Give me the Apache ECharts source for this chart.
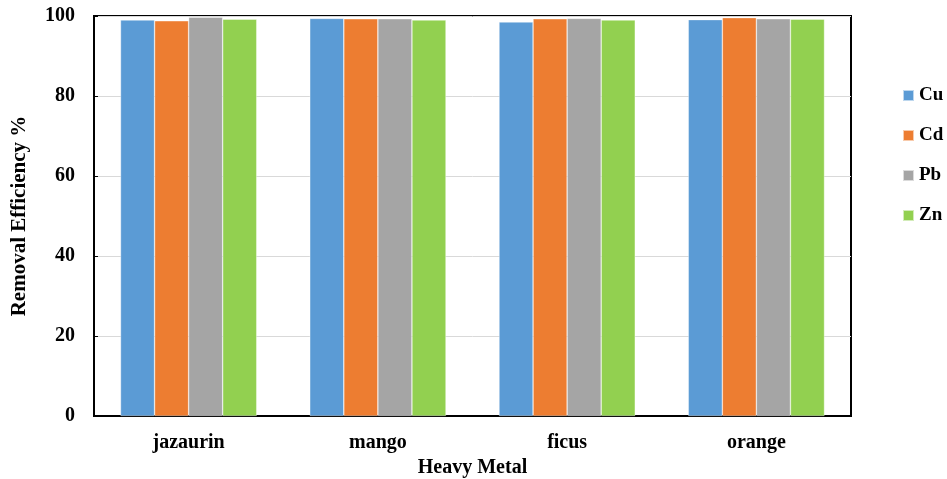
<!DOCTYPE html>
<html><head><meta charset="utf-8">
<script src="https://cdn.jsdelivr.net/npm/echarts@6/dist/echarts.min.js"></script>
<style>html,body{margin:0;padding:0;background:#fff}#c{width:947px;height:479px}</style>
</head><body><div id="c"></div>
<script>
const categories = ['jazaurin', 'mango', 'ficus', 'orange'];
const seriesNames = ['Cu', 'Cd', 'Pb', 'Zn'];
const cu = [99.0, 99.4, 98.5, 99.1];
const cd = [98.8, 99.3, 99.3, 99.6];
const pb = [99.7, 99.3, 99.4, 99.3];
const zn = [99.2, 99.0, 99.0, 99.2];
const yTicks = [0, 20, 40, 60, 80, 100];
const colors = ['#5B9BD5', '#ED7D31', '#A5A5A5', '#92D050'];
const values = [cu, cd, pb, zn];
const font = 'Liberation Serif';
const chart = echarts.init(document.getElementById('c'));
chart.setOption({
  animation: false,
  textStyle: {fontFamily: font},
  grid: {left: 94, right: 96, top: 16, bottom: 63, containLabel: false, outerBoundsMode: 'none',
    show: true, borderColor: '#000', borderWidth: 2, backgroundColor: 'transparent'},
  legend: {
    orient: 'vertical', left: 897, top: 81, itemGap: 21, itemWidth: 11, itemHeight: 11,
    icon: 'rect',
    textStyle: {fontFamily: font, fontWeight: 'bold', fontSize: 19, color: '#000'},
    data: seriesNames
  },
  xAxis: {
    type: 'category', data: categories,
    name: 'Heavy Metal', nameLocation: 'middle', nameGap: 40,
    nameTextStyle: {fontFamily: font, fontWeight: 'bold', fontSize: 20, color: '#000'},
    axisLine: {lineStyle: {color: '#000', width: 2}},
    axisTick: {show: false},
    axisLabel: {fontFamily: font, fontWeight: 'bold', fontSize: 20, color: '#000', margin: 17}
  },
  yAxis: {
    type: 'value', min: 0, max: 100, interval: 20,
    name: 'Removal Efficiency %', nameLocation: 'middle', nameGap: 64,
    nameTextStyle: {fontFamily: font, fontWeight: 'bold', fontSize: 21, color: '#000'},
    axisLine: {show: true, lineStyle: {color: '#000', width: 2}},
    axisTick: {show: true, inside: true, length: 4, lineStyle: {color: '#000', width: 1}},
    splitLine: {lineStyle: {color: '#d9d9d9', width: 1}},
    axisLabel: {fontFamily: font, fontWeight: 'bold', fontSize: 20, color: '#000', margin: 19,
      formatter: v => yTicks.includes(v) ? String(v) : ''}
  },
  series: seriesNames.map((n, i) => ({
    name: n, type: 'bar', data: values[i],
    barGap: '0%', barCategoryGap: '28%',
    itemStyle: {color: colors[i], borderColor: 'rgba(255,255,255,0.6)', borderWidth: 0.6}
  }))
});
</script></body></html>
